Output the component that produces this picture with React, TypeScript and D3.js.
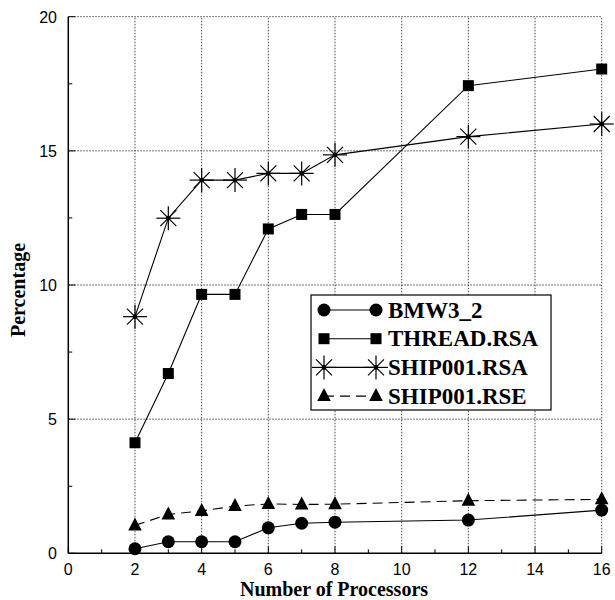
import React from "react";
import * as d3 from "d3";

// processors on the x axis
const processors = [2, 3, 4, 5, 6, 7, 8, 12, 16];

// percentages
const bmw3_2 = [0.17, 0.43, 0.43, 0.43, 0.95, 1.12, 1.16, 1.24, 1.61];
const threadRsa = [4.12, 6.7, 9.65, 9.65, 12.09, 12.63, 12.63, 17.43, 18.05];
const ship001Rsa = [8.82, 12.49, 13.91, 13.91, 14.16, 14.16, 14.85, 15.53, 16.0];
const ship001Rse = [1.04, 1.45, 1.58, 1.76, 1.84, 1.82, 1.83, 1.96, 2.01];

const xTicks = [0, 2, 4, 6, 8, 10, 12, 14, 16];
const yTicks = [0, 5, 10, 15, 20];
const xMinor = [1, 3, 5, 7, 9, 11, 13, 15];
const yMinor = [2.5, 7.5, 12.5, 17.5];

const seriesNames = ["BMW3_2", "THREAD.RSA", "SHIP001.RSA", "SHIP001.RSE"];
const seriesValues = [bmw3_2, threadRsa, ship001Rsa, ship001Rse];
const markerKinds = ["circle", "square", "star", "triangle"];

const width = 615;
const height = 600;
const left = 68.3, right = 601.7, top = 16.7, bottom = 553.3;

function Marker({ kind, x, y }: { kind: string; x: number; y: number }) {
  if (kind === "circle") return <circle cx={x} cy={y} r={6.5} fill="#000" />;
  if (kind === "square") return <rect x={x - 5.5} y={y - 5.5} width={11} height={11} fill="#000" />;
  if (kind === "triangle") {
    const p = d3.path();
    p.moveTo(x, y - 8);
    p.lineTo(x + 6.8, y + 5);
    p.lineTo(x - 6.8, y + 5);
    p.closePath();
    return <path d={p.toString()} fill="#000" />;
  }
  // asterisk: horizontal, vertical and two diagonals
  const d = 8;
  return (
    <g stroke="#000" strokeWidth={1.2}>
      <line x1={x - 12} y1={y} x2={x + 12} y2={y} />
      <line x1={x} y1={y - 12} x2={x} y2={y + 12} />
      <line x1={x - d} y1={y - d} x2={x + d} y2={y + d} />
      <line x1={x - d} y1={y + d} x2={x + d} y2={y - d} />
      <circle cx={x} cy={y} r={1.8} fill="#000" />
    </g>
  );
}

export default function App() {
  const x = d3.scaleLinear().domain([0, 16]).range([left, right]);
  const y = d3.scaleLinear().domain([0, 20]).range([bottom, top]);

  const line = d3.line<number>()
    .x((d, i) => x(processors[i]))
    .y(d => y(d));

  const gridStyle = { stroke: "#444", strokeWidth: 1, strokeDasharray: "1.5,1.5" };

  // legend layout
  const legX = 311, legY = 295, legW = 240, legH = 115;
  const rowY = (i: number) => 310 + i * 28.7;

  return (
    <svg width={width} height={height} style={{ position: "absolute", left: 0, top: 0, background: "#fff" }}>
      {/* grid */}
      {xTicks.filter(t => t > 0).map(t => (
        <line key={"gx" + t} x1={x(t)} x2={x(t)} y1={y(0)} y2={y(20)} style={gridStyle} />
      ))}
      {yTicks.filter(t => t > 0).map(t => (
        <line key={"gy" + t} x1={x(0)} x2={x(16)} y1={y(t)} y2={y(t)} style={gridStyle} />
      ))}

      {/* axes */}
      <line x1={left} x2={right} y1={bottom} y2={bottom} stroke="#000" strokeWidth={1.5} />
      <line x1={left} x2={left} y1={top} y2={bottom} stroke="#000" strokeWidth={1.5} />
      {xTicks.map(t => (
        <line key={"tx" + t} x1={x(t)} x2={x(t)} y1={bottom} y2={bottom - 7} stroke="#000" />
      ))}
      {xMinor.map(t => (
        <line key={"mx" + t} x1={x(t)} x2={x(t)} y1={bottom} y2={bottom - 4} stroke="#000" />
      ))}
      {yTicks.map(t => (
        <line key={"ty" + t} x1={left} x2={left + 7} y1={y(t)} y2={y(t)} stroke="#000" />
      ))}
      {yMinor.map(t => (
        <line key={"my" + t} x1={left} x2={left + 4} y1={y(t)} y2={y(t)} stroke="#000" />
      ))}

      <g fontFamily="Liberation Sans, Arial, sans-serif" fontSize={16} fill="#000">
        {xTicks.map(t => (
          <text key={"lx" + t} x={x(t)} y={575} textAnchor="middle">{t}</text>
        ))}
        {yTicks.map(t => (
          <text key={"ly" + t} x={57} y={y(t) + 6} textAnchor="end">{t}</text>
        ))}
      </g>

      <g fontFamily="Liberation Serif, Times New Roman, serif" fontWeight="bold" fontSize={20}>
        <text x={334} y={596} textAnchor="middle">Number of Processors</text>
        <text transform="translate(25,290) rotate(-90)" textAnchor="middle">Percentage</text>
      </g>

      {/* series */}
      {seriesValues.map((vals, s) => (
        <g key={seriesNames[s]}>
          <path d={line(vals) ?? ""} fill="none" stroke="#000" strokeWidth={1.1}
            strokeDasharray={s === 3 ? "10,6" : undefined} />
          {vals.map((v, i) => (
            <Marker key={i} kind={markerKinds[s]} x={x(processors[i])} y={y(v)} />
          ))}
        </g>
      ))}

      {/* legend */}
      <rect x={legX} y={legY} width={legW} height={legH} fill="#fff" stroke="#000" strokeWidth={1.2} />
      {seriesNames.map((name, i) => (
        <g key={"leg" + name}>
          <line x1={324} x2={376} y1={rowY(i)} y2={rowY(i)} stroke="#000" strokeWidth={1.1}
            strokeDasharray={i === 3 ? "10,6" : undefined} />
          <Marker kind={markerKinds[i]} x={324} y={rowY(i)} />
          <Marker kind={markerKinds[i]} x={376} y={rowY(i)} />
          <text x={388} y={rowY(i) + 7.5} fontFamily="Liberation Serif, Times New Roman, serif"
            fontWeight="bold" fontSize={23}>{name}</text>
        </g>
      ))}
    </svg>
  );
}
